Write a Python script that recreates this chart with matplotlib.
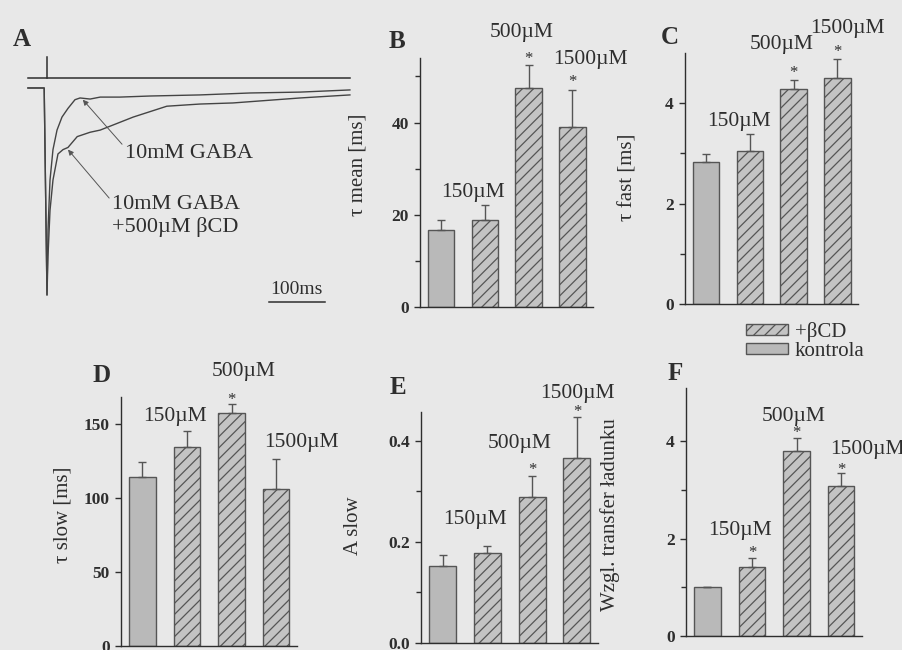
import numpy as np
import matplotlib
matplotlib.use("Agg")
import matplotlib.pyplot as plt
from matplotlib.patches import Patch

plt.rcParams['font.family'] = ['Liberation Serif', 'DejaVu Serif']
plt.rcParams['hatch.linewidth'] = 0.9

# panel A: current traces (time in ms, normalised current)
t_gaba = [-34, -5, 0, 1.8, 5.4, 10.7, 17.9, 26.8, 37.5, 50, 59, 77, 95, 130, 184, 273, 363, 452, 541]
i_gaba = [-0.046, -0.046, -1.0, -0.70, -0.47, -0.33, -0.24, -0.18, -0.14, -0.10, -0.092,
          -0.097, -0.088, -0.088, -0.083, -0.078, -0.069, -0.065, -0.055]
t_cd = [-34, -5, 0, 1.8, 5.4, 10.7, 19.6, 28.6, 37.5, 54, 77, 95, 154, 214, 273, 332, 452, 541]
i_cd = [-0.046, -0.046, -1.0, -0.82, -0.61, -0.47, -0.35, -0.33, -0.32, -0.27, -0.25,
        -0.24, -0.18, -0.13, -0.12, -0.115, -0.092, -0.078]

# panels B-F: kontrola, 150, 500, 1500 uM bCD
conc = ['', '150µM', '500µM', '1500µM']
tau_mean = [16.7, 18.9, 47.6, 39.1]
tau_mean_err = [2.2, 3.3, 4.8, 7.9]
tau_fast = [2.83, 3.05, 4.28, 4.50]
tau_fast_err = [0.16, 0.33, 0.19, 0.39]
tau_slow = [114, 134, 157, 106]
tau_slow_err = [10, 11, 6, 20]
a_slow = [0.152, 0.178, 0.289, 0.366]
a_slow_err = [0.022, 0.014, 0.042, 0.082]
charge = [1.0, 1.42, 3.81, 3.09]
charge_err = [0.0, 0.18, 0.27, 0.27]

BG = '#e8e8e8'
INK = '#2e2e2e'
EDGE = '#555555'
CTRL = '#b9b9b9'
CD = '#c3c3c3'

W, H = 902, 650
fig = plt.figure(figsize=(W / 100, H / 100), dpi=100)
fig.patch.set_facecolor(BG)


def px_axes(x0, y0, x1, y1):
    return fig.add_axes([x0 / W, 1 - y1 / H, (x1 - x0) / W, (y1 - y0) / H])


# ---- A ----
ax = px_axes(20, 50, 360, 310)
ax.set_xlim(-48.2, 559)
ax.set_ylim(-1.069, 0.129)
ax.axis('off')
ax.plot(t_gaba, i_gaba, color='#444444', lw=1)
ax.plot(t_cd, i_cd, color='#444444', lw=1)
ax.plot([-34, 541], [0, 0], color=INK, lw=1.1)
ax.plot([0, 0], [0, 0.097], color=INK, lw=1.1)
ax.plot([396, 496], [-1.032, -1.032], color=INK, lw=1.1)
ax.text(446, -0.975, '100ms', ha='center', va='center', fontsize=14, color=INK)
ax.annotate('10mM GABA', xy=(64, -0.10), xytext=(139, -0.346), fontsize=16, color=INK,
            va='center', ha='left',
            arrowprops=dict(arrowstyle='-|>', lw=0.7, color='#555555', mutation_scale=8,
                            shrinkA=0, shrinkB=0, relpos=(0, 0.8)))
ax.annotate('10mM GABA\n+500µM βCD', xy=(37.5, -0.33), xytext=(116, -0.636), fontsize=16,
            color=INK, va='center', ha='left',
            arrowprops=dict(arrowstyle='-|>', lw=0.7, color='#555555', mutation_scale=8,
                            shrinkA=0, shrinkB=0, relpos=(0, 0.85)))


def bar_panel(box, vals, errs, ylim, major, minor, ylabel, lab_pos, notes, stars):
    ax = px_axes(*box)
    x = np.arange(len(vals))
    vals = np.array(vals)
    errs = np.array(errs)
    ax.bar(x[:1], vals[:1], width=0.6, color=CTRL, edgecolor=EDGE, lw=1)
    ax.bar(x[1:], vals[1:], width=0.6, color=CD, edgecolor=EDGE, lw=1, hatch='///')
    ax.errorbar(x, vals, yerr=[np.zeros(len(x)), errs], fmt='none', ecolor=EDGE,
                elinewidth=1, capsize=3, capthick=1)
    ax.set_xlim(-0.48, 3.47)
    ax.set_ylim(*ylim)
    ax.set_facecolor('none')
    for s in ['top', 'right']:
        ax.spines[s].set_visible(False)
    for s in ['left', 'bottom']:
        ax.spines[s].set_color(INK)
        ax.spines[s].set_linewidth(1)
    ax.set_xticks([])
    ax.set_yticks(major)
    ax.set_yticks(minor, minor=True)
    ax.tick_params(axis='y', which='major', length=4, width=1, color=INK,
                   labelsize=12.5, labelcolor=INK, pad=4)
    ax.tick_params(axis='y', which='minor', length=3.5, width=1, color=INK)
    plt.setp(ax.get_yticklabels(), fontweight='bold')
    ax.set_ylabel(ylabel, fontsize=15, color=INK)
    ax.yaxis.set_label_coords(*lab_pos)
    top = vals + errs
    for i, dx, dy in notes:
        ax.annotate(conc[i], xy=(x[i], top[i]), xytext=(dx, dy), textcoords='offset pixels',
                    ha='center', va='center', fontsize=15.5, color=INK)
    for i, dy in stars:
        ax.annotate('*', xy=(x[i], top[i]), xytext=(0, dy), textcoords='offset pixels',
                    ha='center', va='bottom', fontsize=12, color=INK)
    return ax


bar_panel((420, 58, 593, 307), tau_mean, tau_mean_err, (0, 54), [0, 20, 40], [10, 30, 50],
          'τ mean [ms]', (-0.306, 0.57),
          [(1, -12, 12), (2, -7, 33), (3, 18, 31)], [(2, -2), (3, 0)])
bar_panel((685, 53, 858, 304), tau_fast, tau_fast_err, (0, 5), [0, 2, 4], [1, 3],
          'τ fast [ms]', (-0.277, 0.506),
          [(1, -11, 13), (2, -12, 35), (3, 10, 30)], [(2, -1), (3, -1)])
bar_panel((121, 397, 297, 646), tau_slow, tau_slow_err, (0, 168), [0, 50, 100, 150], [],
          'τ slow [ms]', (-0.278, 0.526),
          [(1, -12, 15), (2, 12, 33), (3, 25, 17)], [(2, -4)])
bar_panel((421, 412, 598, 643), a_slow, a_slow_err, (0, 0.457), [0.0, 0.2, 0.4], [0.1, 0.3],
          'A slow', (-0.328, 0.51),
          [(1, -12, 26), (2, -13, 32), (3, 0, 23)], [(2, -2), (3, -3)])
bar_panel((686, 388, 862, 636), charge, charge_err, (0, 5.1), [0, 2, 4], [1, 3],
          'Wzgl. transfer ładunku', (-0.375, 0.49),
          [(1, -12, 28), (2, -3, 21), (3, 26, 23)], [(1, -3), (2, -3), (3, -5)])

handles = [Patch(facecolor=CD, edgecolor=EDGE, hatch='///'),
           Patch(facecolor=CTRL, edgecolor=EDGE)]
fig.legend(handles, ['+βCD', 'kontrola'], loc='upper left', bbox_to_anchor=(0.827, 0.505),
           frameon=False, fontsize=15, handlelength=2.0, handleheight=0.4,
           handletextpad=0.35, labelspacing=0.0, borderpad=0, borderaxespad=0,
           labelcolor=INK)

for letter, x, y in [('A', 22, 40), ('B', 397, 42), ('C', 670, 38),
                     ('D', 102, 376), ('E', 398, 387), ('F', 675, 374)]:
    fig.text(x / W, 1 - y / H, letter, fontsize=18, fontweight='bold', color=INK,
             ha='center', va='center')

fig.savefig('out.png', dpi=100, facecolor=BG)
